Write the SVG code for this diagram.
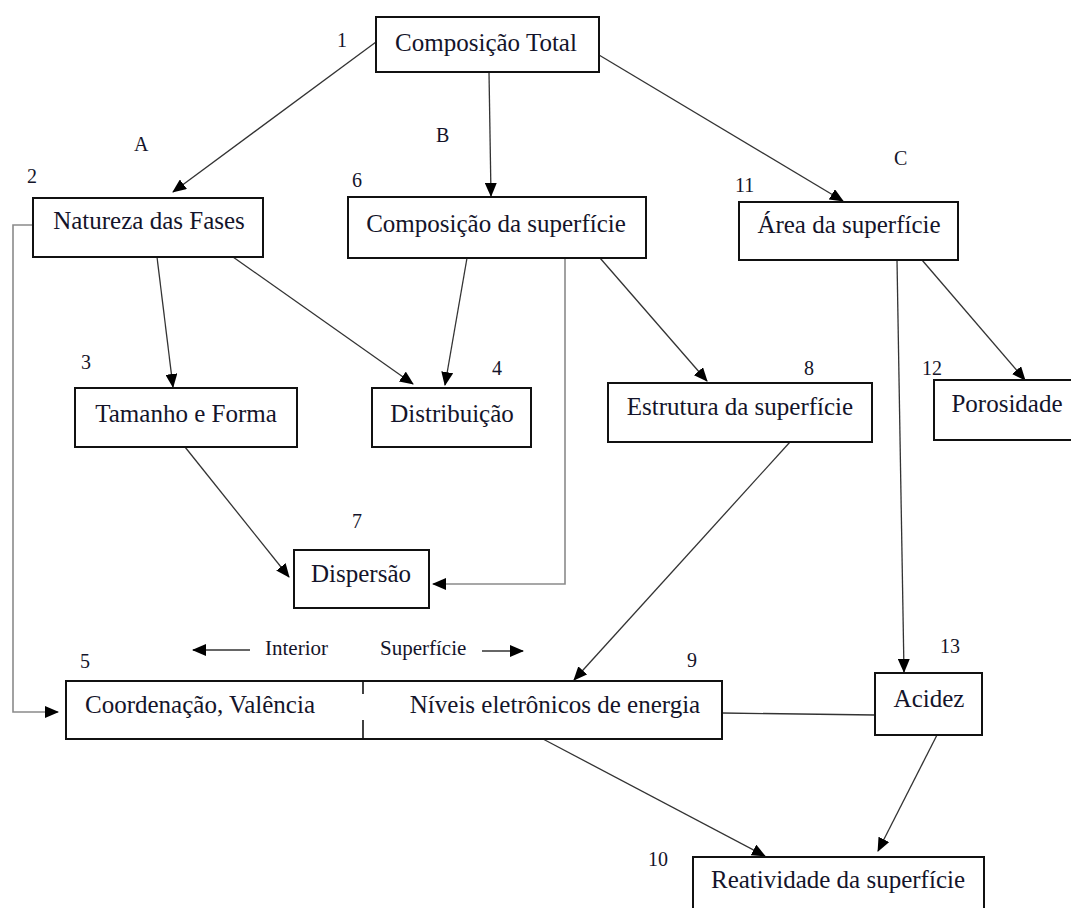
<svg xmlns="http://www.w3.org/2000/svg" width="1071" height="908" viewBox="0 0 1071 908">
  <style>
    .box { fill: #ffffff; stroke: #111111; stroke-width: 2; }
    text { font-family: 'Liberation Serif', 'DejaVu Serif', serif; fill: #14142a; }
    .lbl { font-size: 25px; text-anchor: middle; }
    .num { font-size: 20px; }
    .side { font-size: 21px; }
    .edge { fill: none; stroke: #333333; stroke-width: 1.3; }
    .edge-light { fill: none; stroke: #8a8a8a; stroke-width: 1.6; }
  </style>
  <defs>
    <marker id="arrow" markerUnits="userSpaceOnUse" markerWidth="14" markerHeight="12" refX="13" refY="6" orient="auto">
      <path d="M0,0 L14,6 L0,12 Z" fill="#000000"/>
    </marker>
  </defs>
  <rect width="1071" height="908" fill="#ffffff"/>

  <!-- connectors -->
  <g id="connectors">
    <line class="edge" x1="376" y1="42" x2="173" y2="192" marker-end="url(#arrow)"/>
    <line class="edge" x1="489" y1="72" x2="491" y2="196" marker-end="url(#arrow)"/>
    <line class="edge" x1="599" y1="55" x2="843" y2="201" marker-end="url(#arrow)"/>
    <line class="edge" x1="157" y1="257" x2="173" y2="387" marker-end="url(#arrow)"/>
    <line class="edge" x1="233" y1="257" x2="413" y2="384" marker-end="url(#arrow)"/>
    <line class="edge" x1="467" y1="258" x2="445" y2="385" marker-end="url(#arrow)"/>
    <polyline class="edge-light" points="565,258 565,584 433,584" marker-end="url(#arrow)"/>
    <line class="edge" x1="600" y1="258" x2="707" y2="381" marker-end="url(#arrow)"/>
    <polyline class="edge-light" points="33,225 13,225 13,712 58,712" marker-end="url(#arrow)"/>
    <line class="edge" x1="185" y1="447" x2="289" y2="577" marker-end="url(#arrow)"/>
    <line class="edge" x1="790" y1="442" x2="574" y2="680" marker-end="url(#arrow)"/>
    <line class="edge" x1="897" y1="260" x2="904" y2="672" marker-end="url(#arrow)"/>
    <line class="edge" x1="922" y1="260" x2="1025" y2="380" marker-end="url(#arrow)"/>
    <line class="edge" x1="722" y1="713" x2="875" y2="715"/>
    <line class="edge" x1="543" y1="739" x2="765" y2="856" marker-end="url(#arrow)"/>
    <line class="edge" x1="937" y1="735" x2="878" y2="851" marker-end="url(#arrow)"/>
    <!-- interior / surface direction arrows -->
    <line class="edge" x1="250" y1="650" x2="193" y2="650" marker-end="url(#arrow)"/>
    <line class="edge" x1="482" y1="651" x2="523" y2="651" marker-end="url(#arrow)"/>
  </g>

  <!-- nodes -->
  <g id="n1">
    <rect class="box" x="376" y="17" width="223" height="55"/>
    <text class="lbl" x="486" y="51">Composição Total</text>
    <text class="num" x="337" y="47">1</text>
  </g>
  <g id="n2">
    <rect class="box" x="33" y="198" width="230" height="59"/>
    <text class="lbl" x="149" y="229">Natureza das Fases</text>
    <text class="num" x="27" y="183">2</text>
  </g>
  <g id="n6">
    <rect class="box" x="348" y="197" width="298" height="61"/>
    <text class="lbl" x="496" y="232">Composição da superfície</text>
    <text class="num" x="352" y="187">6</text>
  </g>
  <g id="n11">
    <rect class="box" x="739" y="202" width="219" height="58"/>
    <text class="lbl" x="849" y="233">Área da superfície</text>
    <text class="num" x="735" y="192">11</text>
  </g>
  <g id="n3">
    <rect class="box" x="75" y="388" width="222" height="59"/>
    <text class="lbl" x="186" y="422">Tamanho e Forma</text>
    <text class="num" x="81" y="369">3</text>
  </g>
  <g id="n4">
    <rect class="box" x="372" y="388" width="159" height="59"/>
    <text class="lbl" x="452" y="422">Distribuição</text>
    <text class="num" x="492" y="375">4</text>
  </g>
  <g id="n8">
    <rect class="box" x="608" y="383" width="264" height="59"/>
    <text class="lbl" x="740" y="415">Estrutura da superfície</text>
    <text class="num" x="804" y="375">8</text>
  </g>
  <g id="n12">
    <rect class="box" x="934" y="380" width="146" height="60"/>
    <text class="lbl" x="1007" y="412">Porosidade</text>
    <text class="num" x="922" y="375">12</text>
  </g>
  <g id="n7">
    <rect class="box" x="294" y="550" width="135" height="58"/>
    <text class="lbl" x="361" y="582">Dispersão</text>
    <text class="num" x="352" y="528">7</text>
  </g>
  <g id="n5-9">
    <rect class="box" x="66" y="681" width="656" height="58"/>
    <rect x="358" y="694" width="10" height="25" fill="#ffffff"/>
    <line x1="363" y1="681" x2="363" y2="694" stroke="#111111" stroke-width="1.6"/>
    <line x1="363" y1="720" x2="363" y2="739" stroke="#111111" stroke-width="1.6"/>
    <text class="lbl" x="200" y="713">Coordenação, Valência</text>
    <text class="lbl" x="555" y="713">Níveis eletrônicos de energia</text>
    <text class="num" x="80" y="668">5</text>
    <text class="num" x="687" y="667">9</text>
  </g>
  <g id="n13">
    <rect class="box" x="875" y="673" width="107" height="62"/>
    <text class="lbl" x="929" y="707">Acidez</text>
    <text class="num" x="940" y="653">13</text>
  </g>
  <g id="n10">
    <rect class="box" x="693" y="857" width="291" height="70"/>
    <text class="lbl" x="838" y="888">Reatividade da superfície</text>
    <text class="num" x="648" y="866">10</text>
  </g>

  <!-- group and side labels -->
  <g id="labels">
    <text class="num" x="134" y="151">A</text>
    <text class="num" x="436" y="142">B</text>
    <text class="num" x="894" y="165">C</text>
    <text class="side" x="265" y="655">Interior</text>
    <text class="side" x="380" y="655">Superfície</text>
  </g>
</svg>
